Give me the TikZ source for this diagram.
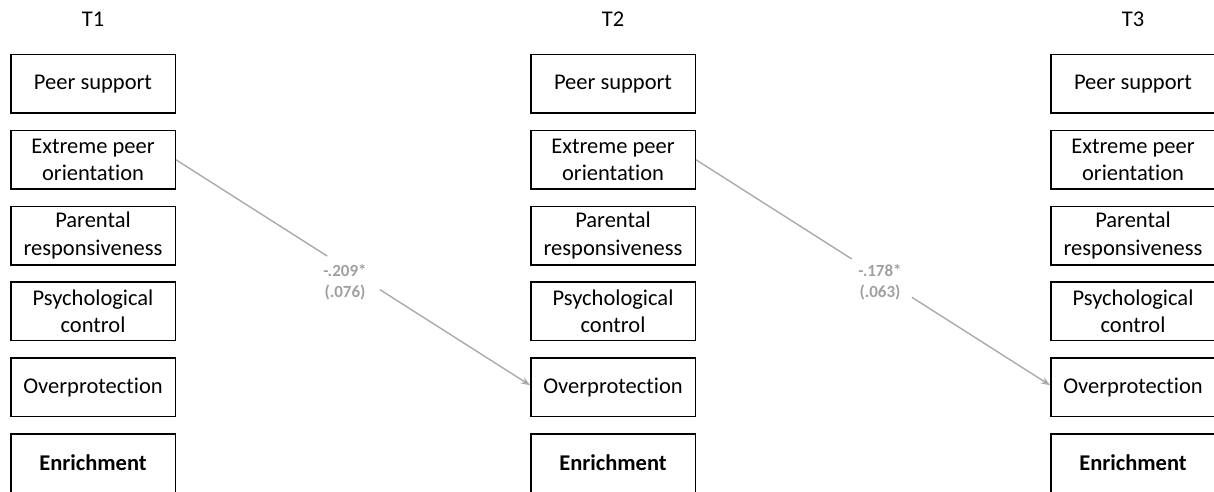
\documentclass[tikz,border=0pt]{standalone}
\usepackage{fontspec}
\setmainfont{Carlito}[Ligatures=NoCommon]
\usetikzlibrary{arrows.meta,calc}
\definecolor{pathgray}{RGB}{170,170,170}
\definecolor{labgray}{RGB}{160,160,160}
\begin{document}
\begin{tikzpicture}[x=1pt,y=-1pt,
  var/.style={draw=black, line width=1.5pt, minimum width=164.5pt, minimum height=58.5pt,
    inner sep=0pt, align=center, font=\fontsize{22.5}{27.5}\selectfont},
  boldvar/.style={var, font=\fontsize{22.5}{27.5}\selectfont\bfseries},
  wave/.style={font=\fontsize{22.5}{27}\selectfont, inner sep=0pt},
  pathline/.style={draw=pathgray, line width=1.4pt},
  pathhead/.style={-{Stealth[length=9pt,width=7pt]}},
  coef/.style={text=labgray, align=center, inner sep=0pt,
    font=\fontsize{17}{20.5}\selectfont\bfseries}]
\useasboundingbox (0,0) rectangle (1214,492);
\foreach \c/\x in {1/93,2/613,3/1133}{
  \node[wave, anchor=base] (t\c) at (\x,27) {T\c};
  \node[var] (p\c) at (\x,84) {Peer support};
  \node[var] (e\c) at (\x,159.8) {Extreme peer\\orientation};
  \node[var] (r\c) at (\x,235.6) {Parental\\responsiveness};
  \node[var] (s\c) at (\x,311.4) {Psychological\\control};
  \node[var] (o\c) at (\x,387.2) {Overprotection};
  \node[boldvar] (n\c) at (\x,463) {Enrichment};
}
% path T1 -> T2
\coordinate (a1) at ($(e1.east)!0.427!([yshift=2pt]o2.west)$);
\coordinate (b1) at ($(e1.east)!0.576!([yshift=2pt]o2.west)$);
\draw[pathline] (e1.east) -- (a1);
\draw[pathline, pathhead] (b1) -- ([yshift=2pt]o2.west);
\node[coef] (l1) at (345,282) {-.209*\\(.076)};
% path T2 -> T3
\coordinate (a2) at ($(e2.east)!0.44!([yshift=2pt]o3.west)$);
\coordinate (b2) at ($(e2.east)!0.61!([yshift=2pt]o3.west)$);
\draw[pathline] (e2.east) -- (a2);
\draw[pathline, pathhead] (b2) -- ([yshift=2pt]o3.west);
\node[coef] (l2) at (880,282) {-.178*\\(.063)};
\end{tikzpicture}
\end{document}
